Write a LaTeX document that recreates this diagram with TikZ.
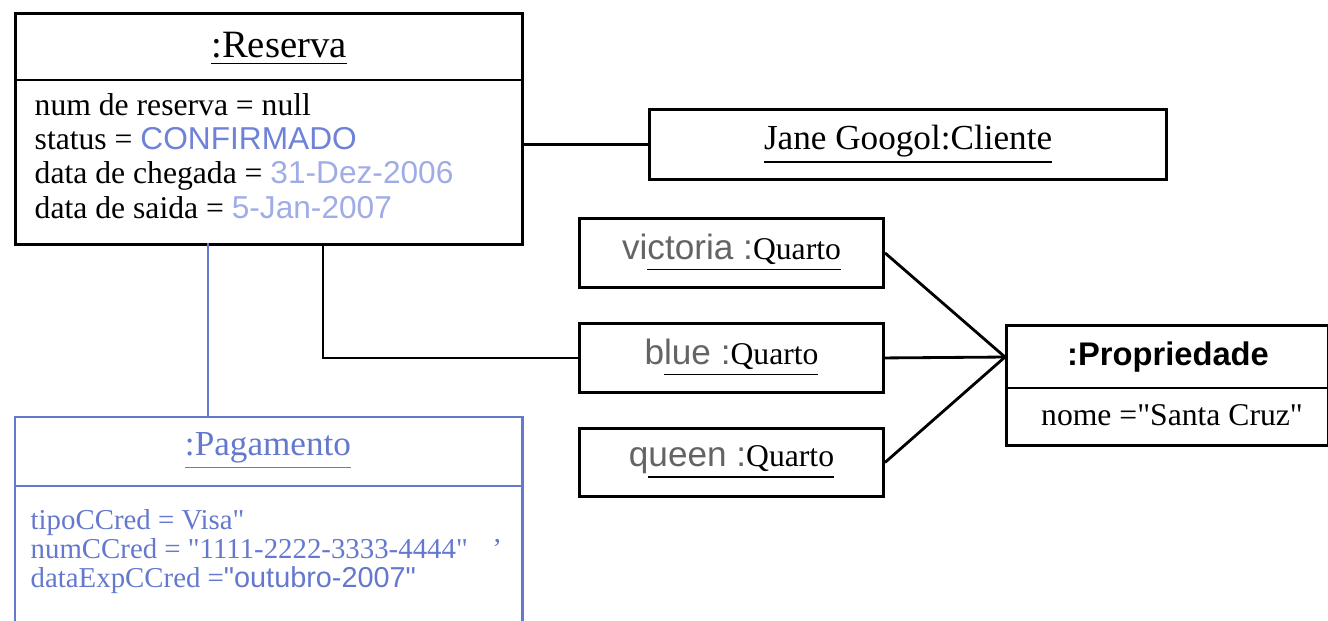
\documentclass[tikz,border=0pt]{standalone}
\usepackage{fontspec}
\setmainfont{Liberation Serif}
\newfontfamily\arialfont{Liberation Sans}
\usepackage{tikz}
\definecolor{pagblue}{RGB}{100,120,205}
\definecolor{valblue}{RGB}{110,130,215}
\definecolor{datblue}{RGB}{160,172,230}
\definecolor{namegray}{RGB}{100,100,100}
\newcommand{\roomname}[1]{{\arialfont\fontsize{10}{12}\selectfont\color{namegray}#1}}
\newcommand{\dq}{\textquotedbl}
\tikzset{
  objbox/.style={draw, line width=0.8pt, anchor=north west, inner sep=0pt},
  link/.style={line width=0.8pt},
  paglink/.style={line width=0.7pt, pagblue},
}

\begin{document}
\begin{tikzpicture}[x=0.01cm, y=-0.01cm]
    \useasboundingbox (0,0) rectangle (1328,620);
    \clip (0,0) rectangle (1328,620);

    % Reserva
    \node[objbox, minimum width=5.07cm, minimum height=2.31cm] (res) at (14,12) {};
    \coordinate (resdiv) at (14,80);
    \draw[link] (resdiv) -- (resdiv -| res.east);
    \node[font=\fontsize{11}{13}\selectfont] (restitle) at (279,49) {\underline{:Reserva}};
    \node[anchor=north west, align=left, inner sep=0pt, font=\fontsize{9}{9.7}\selectfont] (resattr) at (34,93)
        {num de reserva = null\\
         status = {\arialfont\color{valblue}CONFIRMADO}\\
         data de chegada = {\arialfont\color{datblue}31-Dez-2006}\\
         data de saida = {\arialfont\color{datblue}5-Jan-2007}};

    % Cliente
    \node[objbox, minimum width=5.17cm, minimum height=0.70cm, font=\fontsize{10}{12}\selectfont] (cli) at (648,108)
        {\underline{Jane Googol:Cliente}};

    % Quartos
    \node[objbox, minimum width=3.04cm, minimum height=0.69cm, font=\fontsize{9}{11}\selectfont] (vic) at (578,217)
        {\roomname{vi}\underline{\roomname{ctoria :}Quarto}};
    \node[objbox, minimum width=3.04cm, minimum height=0.69cm, font=\fontsize{9}{11}\selectfont] (blue) at (578,322)
        {\roomname{b}\underline{\roomname{lue :}Quarto}};
    \node[objbox, minimum width=3.04cm, minimum height=0.68cm, font=\fontsize{9}{11}\selectfont] (queen) at (578,427)
        {\roomname{q}\underline{\roomname{ueen :}Quarto}};

    % Propriedade
    \node[objbox, minimum width=3.22cm, minimum height=1.20cm] (prop) at (1005,324) {};
    \coordinate (propdiv) at (1005,388);
    \draw[link] (propdiv) -- (propdiv -| prop.east);
    \node[font=\arialfont\bfseries\fontsize{9.3}{11}\selectfont] (propname) at (1168,357) {:Propriedade};
    \node[font=\fontsize{9}{11}\selectfont] (propattr) at (1172,415) {nome =\dq Santa Cruz\dq};

    % Pagamento
    \node[objbox, draw=pagblue, line width=0.7pt, minimum width=5.07cm, minimum height=2.5cm] (pag) at (14,416) {};
    \coordinate (pagdiv) at (14,486);
    \draw[paglink] (pagdiv) -- (pagdiv -| pag.east);
    \node[pagblue, font=\fontsize{10}{12}\selectfont] (pagtitle) at (268,451) {\underline{:Pagamento}};
    \node[pagblue, anchor=north west, align=left, inner sep=0pt, font=\fontsize{8.2}{8.2}\selectfont] (pagattr) at (30,509)
        {tipoCCred = Visa\dq\\
         numCCred = \dq 1111-2222-3333-4444\dq\hspace{7pt}'\\
         dataExpCCred ={\arialfont\dq outubro-2007\dq}};

    % Links
    \draw[link] (res.east |- cli.west) -- (cli.west);
    \coordinate (resbotA) at (208,243);
    \draw[paglink] (resbotA) -- (resbotA |- pag.north);
    \coordinate (resbotB) at (323,243);
    \draw[link] (resbotB) |- (blue.west);
    \coordinate (propjoin) at (prop.west |- propname);
    \draw[link] (vic.east) -- (propjoin);
    \draw[link] (blue.east) -- (propjoin);
    \draw[link] (queen.east) -- (propjoin);
\end{tikzpicture}
\end{document}
